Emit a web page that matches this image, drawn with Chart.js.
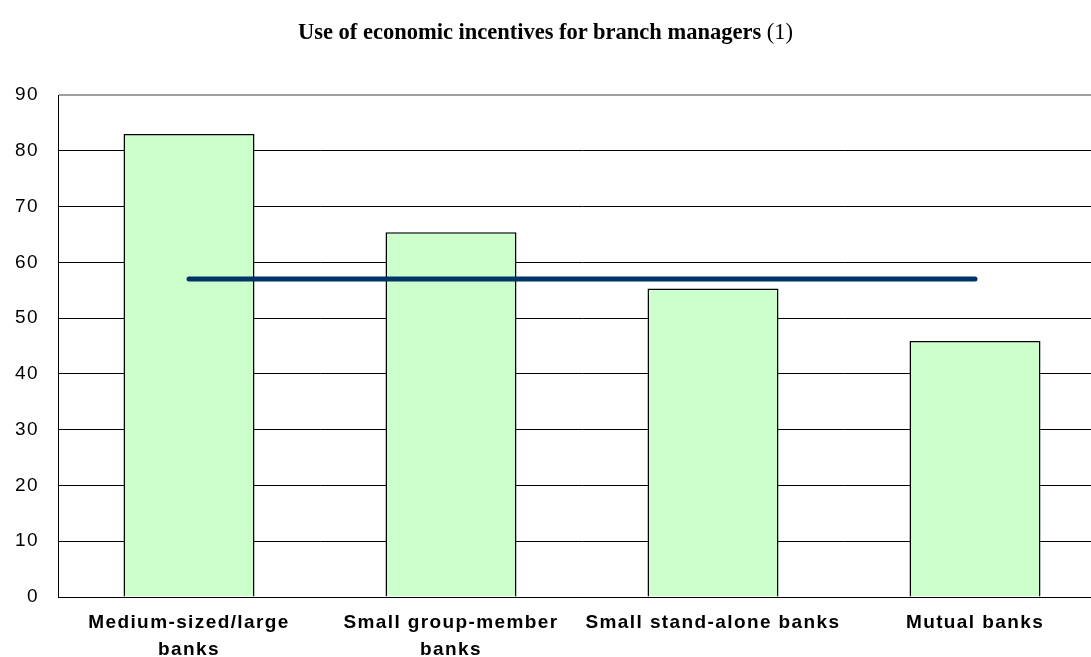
<!DOCTYPE html>
<html>
<head>
<meta charset="utf-8">
<script src="https://cdn.jsdelivr.net/npm/chart.js@4/dist/chart.umd.min.js"></script>
<style>
  html, body { margin: 0; padding: 0; background: #fff; overflow: hidden; }
  #wrap { position: relative; width: 1091px; height: 657px; overflow: hidden; }
  #title {
    position: absolute; left: 0; top: 19px; width: 1091px; text-align: center;
    font-family: "Liberation Serif", "Times New Roman", serif; font-size: 22.5px; color: #000;
  }
  #title b { font-weight: bold; }
  canvas { position: absolute; left: 0; top: 0; }
</style>
</head>
<body>
<div id="wrap">
  <canvas id="chart" width="1106" height="657"></canvas>
  <div id="title"><b>Use of economic incentives for branch managers</b> (1)</div>
</div>
<script>
/* ================== DATA ================== */
const categories = [
  ['Medium-sized/large', 'banks'],
  ['Small group-member', 'banks'],
  'Small stand-alone banks',
  'Mutual banks'
];
const barValues = [83.0, 65.4, 55.3, 45.9];
const averageValues = [57, 57, 57, 57];
const yTicks = [0, 10, 20, 30, 40, 50, 60, 70, 80, 90];

/* ================== LETTER SPACING ================== */
const spacingPlugin = {
  id: 'spacing',
  beforeDraw(chart) {
    chart.ctx.letterSpacing = '1.4px';
  }
};

const ctx = document.getElementById('chart').getContext('2d');

new Chart(ctx, {
  type: 'bar',
  data: {
    labels: categories,
    datasets: [
      {
        type: 'line',
        data: averageValues,
        borderColor: '#003366',
        borderWidth: 5,
        borderCapStyle: 'round',
        pointRadius: 0,
        fill: false,
        order: 0
      },
      {
        type: 'bar',
        data: barValues,
        backgroundColor: '#CCFFCC',
        borderColor: '#000000',
        borderWidth: 1.5,
        barPercentage: 0.5,
        categoryPercentage: 1,
        order: 1
      }
    ]
  },
  options: {
    responsive: false,
    animation: false,
    layout: { padding: { top: 95, left: 0, right: 0, bottom: 0 } },
    plugins: {
      legend: { display: false },
      tooltip: { enabled: false }
    },
    scales: {
      x: {
        grid: { display: false },
        border: { color: '#000', width: 1 },
        ticks: {
          color: '#000',
          maxRotation: 0,
          autoSkip: false,
          padding: 4,
          font: { family: 'Arial, "Liberation Sans", sans-serif', size: 19, weight: 'bold', lineHeight: 1.42 }
        },
        afterFit(scale) { scale.height = 60; }
      },
      y: {
        min: 0,
        max: 90,
        afterBuildTicks(scale) { scale.ticks = yTicks.map(v => ({ value: v })); },
        grid: {
          drawTicks: false,
          color: c => (c.tick && c.tick.value === 90 ? '#a0a0a0' : '#000'),
          lineWidth: c => (c.tick && c.tick.value === 90 ? 2 : 1)
        },
        border: { color: '#000', width: 1 },
        ticks: {
          color: '#000',
          padding: 19,
          font: { family: 'Arial, "Liberation Sans", sans-serif', size: 19 }
        },
        afterFit(scale) { scale.width = 58; }
      }
    }
  },
  plugins: [spacingPlugin]
});
</script>
</body>
</html>
